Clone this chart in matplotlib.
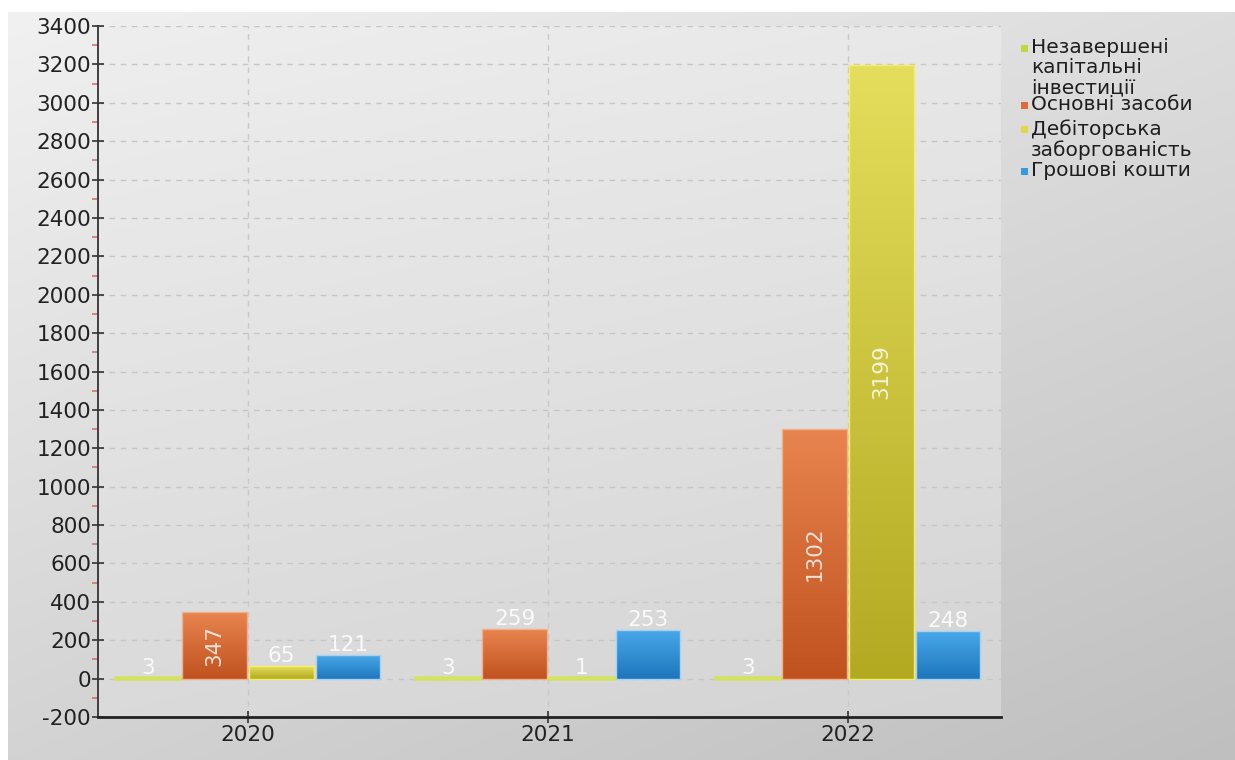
import numpy as np
import matplotlib
matplotlib.use("Agg")
import matplotlib.pyplot as plt
from matplotlib.patches import Rectangle
from matplotlib.ticker import MultipleLocator, FixedLocator

# ---- data -------------------------------------------------------------
years = ["2020", "2021", "2022"]
series_names = [
    "Незавершені\nкапітальні\nінвестиції",
    "Основні засоби",
    "Дебіторська\nзаборгованість",
    "Грошові кошти",
]
unfinished_investments = [3, 3, 3]
fixed_assets = [347, 259, 1302]
receivables = [65, 1, 3199]
cash = [121, 253, 248]
y_min, y_max, y_step = -200, 3400, 200

# ---- styling ----------------------------------------------------------
# (top colour, bottom colour, edge colour, legend colour) per series
palette = [
    ("#d2e264", "#c4d852", "#d2e266", "#c0d840"),
    ("#e8844f", "#c0521f", "#f2b08a", "#e06a3a"),
    ("#e4de5c", "#b4aa22", "#f4ee64", "#e0d848"),
    ("#48a8e8", "#1e76bc", "#a8d2f2", "#3898e0"),
]
thin_bar_colour = "#d4e262"
FONT = "DejaVu Sans"
plt.rcParams["font.family"] = [FONT]
plt.rcParams["axes.unicode_minus"] = False

W, H = 1235, 760
fig = plt.figure(figsize=(W / 100, H / 100), dpi=100, facecolor="white")


def fpx(x, y):
    """pixel position (from top-left) -> figure fraction"""
    return x / W, 1 - y / H


# panel background: soft diagonal grey gradient
bg = fig.add_axes([8 / W, 0, 1 - 8 / W, 748 / H], zorder=-10)
bg.axis("off")
U, V = np.meshgrid(np.linspace(0, 1, 300), np.linspace(0, 1, 300))
g = (241 - 20 * U - 30 * V) / 255
bg.imshow(np.dstack([g, g, g]), aspect="auto", extent=[0, 1, 0, 1],
          interpolation="bilinear")

# plotting area
ax = fig.add_axes([98 / W, 43 / H, 903 / W, 691 / H])
ax.set_facecolor("none")
U2, V2 = np.meshgrid(np.linspace(0, 1, 200), np.linspace(0, 1, 200))
g2 = (238 - 6 * U2 - 20 * V2) / 255
ax.imshow(np.dstack([g2, g2, g2]), aspect="auto", extent=[0, 1, 0, 1],
          transform=ax.transAxes, zorder=0, interpolation="bilinear")

x = np.arange(len(years))
all_series = [unfinished_investments, fixed_assets, receivables, cash]
step = 0.222
bar_w = 0.215
offsets = (np.arange(len(all_series)) - (len(all_series) - 1) / 2) * step

ax.set_xlim(-0.5, 2.51)
ax.set_ylim(y_min, y_max)
px_per_unit = 691 / (y_max - y_min)

for vals, off, (c_top, c_bot, c_edge, _) in zip(all_series, offsets, palette):
    bars = ax.bar(x + off, vals, width=bar_w, color="none",
                  edgecolor=c_edge, linewidth=1.0, zorder=4)
    grad = np.linspace(0, 1, 64)[:, None]
    t = np.array(matplotlib.colors.to_rgb(c_top))
    b = np.array(matplotlib.colors.to_rgb(c_bot))
    img = (t[None, None, :] * (1 - grad[..., None]) + b[None, None, :] * grad[..., None])
    for patch, v in zip(bars, vals):
        x0 = patch.get_x()
        x1 = x0 + patch.get_width()
        im = ax.imshow(img, extent=[x0, x1, 0, v], aspect="auto", zorder=3,
                       interpolation="bilinear")
        im.set_clip_path(patch)
        # very small values get a thicker outline so the bar stays visible
        if v * px_per_unit < 3:
            patch.set_edgecolor(thin_bar_colour)
            patch.set_linewidth(2.6)
        cx = x0 + patch.get_width() / 2
        if v >= 300:
            ax.text(cx, v / 2, str(v), rotation=90, ha="center", va="center",
                    color="white", alpha=0.8, fontsize=15.5, zorder=6)
        else:
            ax.annotate(str(v), (cx, v), xytext=(0, 0), textcoords="offset points",
                        ha="center", va="bottom", color="#fafafa", fontsize=15.5,
                        zorder=6)

ax.set_xlim(-0.5, 2.51)
ax.set_ylim(y_min, y_max)

# axes, ticks, grid
ax.xaxis.set_major_locator(FixedLocator(x))
ax.set_xticklabels(years)
ax.yaxis.set_major_locator(MultipleLocator(y_step))
ax.yaxis.set_minor_locator(MultipleLocator(y_step / 2))
ax.tick_params(axis="both", which="major", direction="inout", length=8,
               width=1.2, color="#333333", labelsize=15.5, labelcolor="#222222")
ax.tick_params(axis="y", which="major", pad=1)
ax.tick_params(axis="x", which="major", pad=2)
ax.tick_params(axis="y", which="minor", direction="out", length=4,
               width=1.2, color="#d87070")
ax.grid(axis="y", which="major", linestyle=(0, (4, 4)), color="#c6c6c6",
        linewidth=1, zorder=1)
ax.grid(axis="x", which="major", linestyle=(0, (4, 4)), color="#c8c8c8",
        linewidth=1, zorder=1)
ax.set_axisbelow(True)
for side in ("top", "right"):
    ax.spines[side].set_visible(False)
ax.spines["left"].set_color("#333333")
ax.spines["left"].set_linewidth(1.3)
ax.spines["bottom"].set_color("#222222")
ax.spines["bottom"].set_linewidth(2)

# legend drawn as a simple stacked list on the right
entry_tops = [38, 95, 119, 161]
marker_centres = [48, 105, 129, 171]
for name, top, my, (_, _, _, c_leg) in zip(series_names, entry_tops,
                                            marker_centres, palette):
    tx, ty = fpx(1031, top)
    fig.text(tx, ty, name, ha="left", va="top", fontsize=14.5,
             color="#1e1e1e", linespacing=1.08)
    rx, ry = fpx(1020.5, my + 3.5)
    fig.add_artist(Rectangle((rx, ry), 7 / W, 7 / H, transform=fig.transFigure,
                             facecolor=c_leg, edgecolor="none"))

fig.savefig("out.png", dpi=100, facecolor=fig.get_facecolor())
